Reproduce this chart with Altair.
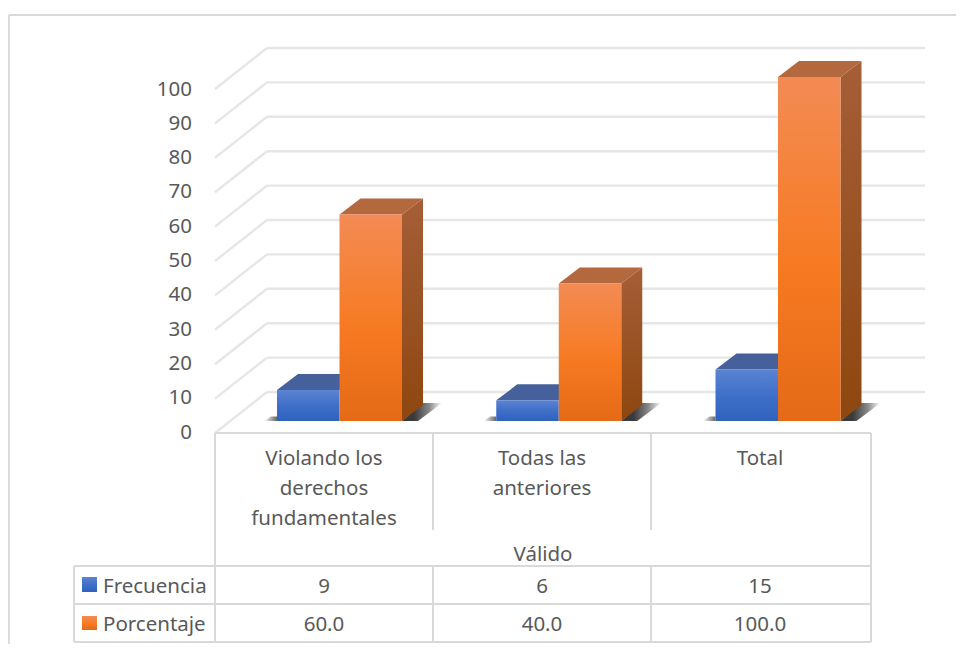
import altair as alt
import pandas as pd

# ---- data
categories = [["Violando los", "derechos", "fundamentales"], ["Todas las", "anteriores"], ["Total"]]
group_label = "Válido"
frecuencia = [9, 6, 15]
porcentaje = [60.0, 40.0, 100.0]
y_ticks = [0, 10, 20, 30, 40, 50, 60, 70, 80, 90, 100]
series_names = ["Frecuencia", "Porcentaje"]

# ---- layout
W, H = 948, 636
PX_PER_VALUE = 3.44
BASE_Y = 421.0
STEP = 219.25
FIRST_MID = 339.5
X0 = FIRST_MID - 0.5 * STEP
TEXT_DY = 1.5


def X(px):
    return (px - X0) / STEP


def Y(px):
    return (BASE_Y - px) / PX_PER_VALUE


xs = alt.Scale(domain=[X(8), X(8 + W)], range=[0, W], nice=False, zero=False)
ys = alt.Scale(domain=[Y(8 + H), Y(8)], range=[H, 0], nice=False, zero=False)
xq = lambda f="x": alt.X(f"{f}:Q", scale=xs, axis=None)
yq = lambda f="y": alt.Y(f"{f}:Q", scale=ys, axis=None)
x2q = lambda f="x2": alt.X2(f"{f}:Q")
y2q = lambda f="y2": alt.Y2(f"{f}:Q")

BAR_W = 62.5 / STEP
DX = 21 / STEP
DY = 16 / PX_PER_VALUE
GRID = "#E6E6E6"
LINE = "#D9D9D9"
TXT = "#595959"
FONT = "Noto Sans"


def vgrad(*stops):
    return alt.LinearGradient(
        gradient="linear", x1=0, x2=0, y1=0, y2=1,
        stops=[alt.GradientStop(offset=o, color=c) for o, c in stops],
    )


BLUE = vgrad((0, "#5C84D2"), (0.5, "#3F6FC8"), (1, "#2F62BE"))
ORANGE = vgrad((0, "#F38B54"), (0.55, "#F77A22"), (1, "#E56A17"))
BLUE_TOP = "#46609B"
ORANGE_TOP = "#B3683E"
ORANGE_SIDE = vgrad((0, "#A55E37"), (1, "#8E470F"))


def rules(rows, color=LINE, width=2.0):
    df = pd.DataFrame(rows, columns=["x", "x2", "y", "y2"])
    return alt.Chart(df).mark_rule(color=color, strokeWidth=width).encode(
        x=xq(), x2=x2q(), y=yq(), y2=y2q()
    )


layers = []

# outer frame
layers.append(rules([
    (X(8.8), X(956), Y(15), Y(15)),
    (X(8.8), X(8.8), Y(15), Y(644)),
]))

# wall grid with its slanted floor part
back = 29 / PX_PER_VALUE
front = -12 / PX_PER_VALUE
gr = []
for v in y_ticks:
    gr.append((X(267), X(925), v + back, v + back))
    gr.append((X(215), X(267), v + front, v + back))
layers.append(rules(gr, GRID, 2.4))

# floor shadows
sh_l, sh_r = [], []
for i in range(3):
    mid = i + 0.5
    sh_r.append(dict(g=i, y=0, x=mid + BAR_W, x2=mid + BAR_W + 16 / STEP))
    sh_r.append(dict(g=i, y=DY + 0.6, x=mid + BAR_W + DX, x2=mid + BAR_W + 40 / STEP))
    sh_l.append(dict(g=i, y=0, x=mid - BAR_W - 13 / STEP, x2=mid - BAR_W))
    sh_l.append(dict(g=i, y=1.3, x=mid - BAR_W - 6 / STEP, x2=mid - BAR_W))
hgrad_r = alt.LinearGradient(gradient="linear", x1=0.3, x2=1, y1=0, y2=0, stops=[
    alt.GradientStop(offset=0, color="#3A3A3A"),
    alt.GradientStop(offset=0.55, color="#8A8A8A"),
    alt.GradientStop(offset=1, color="#FFFFFF")])
hgrad_l = alt.LinearGradient(gradient="linear", x1=0, x2=1, y1=0, y2=0, stops=[
    alt.GradientStop(offset=0, color="#FFFFFF"), alt.GradientStop(offset=1, color="#666666")])
for rows, g in ((sh_r, hgrad_r), (sh_l, hgrad_l)):
    layers.append(alt.Chart(pd.DataFrame(rows)).mark_area(orient="horizontal", color=g).encode(
        x=xq(), x2=x2q(), y=yq(), detail="g:N"))

# 3-D columns
for i, (f, p) in enumerate(zip(frecuencia, porcentaje)):
    mid = i + 0.5
    # blue
    top = pd.DataFrame([
        dict(y=f, x=mid - BAR_W, x2=mid),
        dict(y=f + DY, x=mid - BAR_W + DX, x2=mid + DX),
    ])
    layers.append(alt.Chart(top).mark_area(orient="horizontal", color=BLUE_TOP).encode(
        x=xq(), x2=x2q(), y=yq()))
    front_b = pd.DataFrame([dict(x=mid - BAR_W, x2=mid, y=0, y2=f)])
    layers.append(alt.Chart(front_b).mark_rect(color=BLUE).encode(
        x=xq(), x2=x2q(), y=yq(), y2=y2q()))
    # orange
    side = pd.DataFrame([
        dict(x=mid + BAR_W, y=p, y2=0),
        dict(x=mid + BAR_W + DX, y=p + DY, y2=DY),
    ])
    layers.append(alt.Chart(side).mark_area(color=ORANGE_SIDE).encode(
        x=xq(), y=yq(), y2=y2q()))
    top = pd.DataFrame([
        dict(y=p, x=mid, x2=mid + BAR_W),
        dict(y=p + DY, x=mid + DX, x2=mid + BAR_W + DX),
    ])
    layers.append(alt.Chart(top).mark_area(orient="horizontal", color=ORANGE_TOP).encode(
        x=xq(), x2=x2q(), y=yq()))
    front_o = pd.DataFrame([dict(x=mid, x2=mid + BAR_W, y=0, y2=p)])
    layers.append(alt.Chart(front_o).mark_rect(color=ORANGE).encode(
        x=xq(), x2=x2q(), y=yq(), y2=y2q()))

# data table lines
layers.append(rules([
    (X(215), X(871), Y(433), Y(433)),
    (X(74), X(871), Y(566), Y(566)),
    (X(74), X(871), Y(604), Y(604)),
    (X(74), X(871), Y(642), Y(642)),
    (X(74), X(74), Y(566), Y(642)),
    (X(215), X(215), Y(433), Y(642)),
    (X(433), X(433), Y(433), Y(530)),
    (X(433), X(433), Y(566), Y(642)),
    (X(651), X(651), Y(433), Y(530)),
    (X(651), X(651), Y(566), Y(642)),
    (X(871), X(871), Y(433), Y(642)),
]))

# legend keys
layers.append(alt.Chart(pd.DataFrame([dict(x=X(82), x2=X(97), y=Y(577), y2=Y(592))])).mark_rect(color=BLUE).encode(
    x=xq(), x2=x2q(), y=yq(), y2=y2q()))
layers.append(alt.Chart(pd.DataFrame([dict(x=X(82), x2=X(97), y=Y(616), y2=Y(630))])).mark_rect(color=ORANGE).encode(
    x=xq(), x2=x2q(), y=yq(), y2=y2q()))


def texts(rows, align="center", size=20.5):
    return alt.Chart(pd.DataFrame(rows)).mark_text(
        align=align, baseline="middle", font=FONT, fontSize=size, color=TXT
    ).encode(x=xq(), y=yq(), text="t:N")


# value axis labels (front plane: 0 at 431, 100 at 88)
layers.append(texts(
    [dict(x=X(192), y=Y(431 + TEXT_DY - 3.43 * v), t=str(v)) for v in y_ticks], align="right"))

# category labels, group label, table values
col_mid = [324, 542, 760]
cat_rows = []
for c, lines in zip(col_mid, categories):
    for k, line in enumerate(lines):
        cat_rows.append(dict(x=X(c), y=Y(457 + TEXT_DY + 30 * k), t=line))
cat_rows.append(dict(x=X(543), y=Y(553 + TEXT_DY), t=group_label))
for c, f, p in zip(col_mid, frecuencia, porcentaje):
    cat_rows.append(dict(x=X(c), y=Y(585 + TEXT_DY), t=str(f)))
    cat_rows.append(dict(x=X(c), y=Y(623 + TEXT_DY), t=f"{p:.1f}"))
layers.append(texts(cat_rows))
layers.append(texts([
    dict(x=X(103), y=Y(585 + TEXT_DY), t=series_names[0]),
    dict(x=X(103), y=Y(623 + TEXT_DY), t=series_names[1]),
], align="left"))

chart = alt.layer(*layers).properties(
    width=W, height=H, padding=0, autosize=alt.AutoSizeParams(type="none"),
    background="white",
).configure_view(stroke=None)

chart.save("out.html", embed_options={"renderer": "svg", "actions": False})
